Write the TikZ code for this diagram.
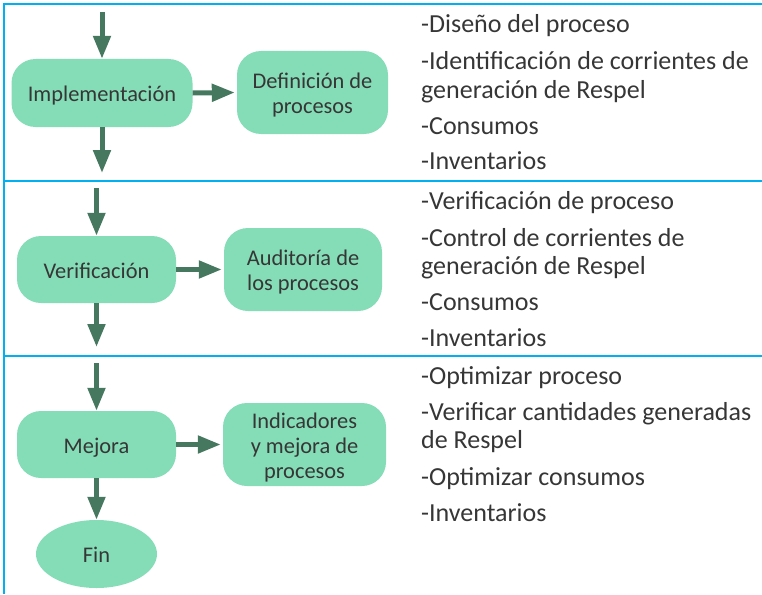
\documentclass[tikz,border=0pt]{standalone}
\usepackage{fontspec}
\setmainfont{Carlito}
\usetikzlibrary{arrows.meta,shapes.geometric}
\definecolor{frameblue}{HTML}{00B0F0}
\definecolor{mint}{HTML}{85DDB7}
\definecolor{arrowgreen}{HTML}{46785F}
\definecolor{txt}{HTML}{363636}
\newcommand{\lowtext}[1]{\raisebox{-3.5pt}[\height][\depth]{\begin{tabular}{@{}c@{}}#1\end{tabular}}}
\tikzset{
  box/.style={draw=none, fill=mint, rounded corners=24pt, text=txt, font=\fontsize{22.4}{25}\selectfont, inner sep=0pt},
  finbox/.style={ellipse, draw=none, fill=mint, text=txt, font=\fontsize{22.4}{25}\selectfont, inner sep=0pt},
  flow/.style={draw=arrowgreen, line width=5pt, -{Triangle[width=17pt,length=23pt]}},
  frame/.style={draw=frameblue, line width=2.5pt},
  item/.style={anchor=base west, inner sep=0pt, text=txt, font=\fontsize{26}{29}\selectfont}
}
\begin{document}
\begin{tikzpicture}[x=1pt,y=-1pt]
\useasboundingbox (0,0) rectangle (762,594);
% frame
\draw[frame] (4,594) -- (4,4) -- (762,4);
\draw[frame] (4,181) -- (762,181);
\draw[frame] (4,356) -- (762,356);
% nodes
\node[box, minimum width=181pt, minimum height=68pt] (impl) at (102,93) {\lowtext{Implementación}};
\node[box, minimum width=151pt, minimum height=83pt] (def) at (312.5,92.5) {\lowtext{Definición de\\procesos}};
\node[box, minimum width=159pt, minimum height=67pt] (ver) at (96.5,269.5) {\lowtext{Verificación}};
\node[box, minimum width=158pt, minimum height=83pt] (aud) at (303,269.5) {\lowtext{Auditoría de\\los procesos}};
\node[box, minimum width=159pt, minimum height=67pt] (mej) at (96.5,444.5) {\lowtext{Mejora}};
\node[box, minimum width=163pt, minimum height=83pt] (ind) at (304.5,444.5) {\lowtext{Indicadores\\y mejora de\\procesos}};
\node[finbox, minimum width=121pt, minimum height=68pt] (fin) at (96.5,554) {\lowtext{Fin}};
% free ends
\coordinate (c1) at (102,12);
\coordinate (c2) at (102,173);
\coordinate (c3) at (96.5,188);
\coordinate (c4) at (96.5,347);
\coordinate (c5) at (96.5,363);
% arrows
\draw[flow] (c1) -- (impl.north);
\draw[flow] (impl.south) -- (c2);
\draw[flow] (c3) -- (ver.north);
\draw[flow] (ver.south) -- (c4);
\draw[flow] (c5) -- (mej.north);
\draw[flow] (mej.south) -- (fin.north);
\draw[flow, shorten >=2pt] (impl.east) -- (def.west);
\draw[flow, shorten >=2pt] (ver.east) -- (aud.west);
\draw[flow, shorten >=2pt] (mej.east) -- (ind.west);
% right texts
\node[item] (a1) at (421,33) {-Diseño del proceso};
\node[item] (a2) at (421,70) {-Identificación de corrientes de};
\node[item] (a3) at (421,98) {generación de Respel};
\node[item] (a4) at (421,134) {-Consumos};
\node[item] (a5) at (421,169) {-Inventarios};
\node[item] (b1) at (421,209) {-Verificación de proceso};
\node[item] (b2) at (421,246) {-Control de corrientes de};
\node[item] (b3) at (421,274) {generación de Respel};
\node[item] (b4) at (421,310) {-Consumos};
\node[item] (b5) at (421,346) {-Inventarios};
\node[item] (d1) at (421,384) {-Optimizar proceso};
\node[item] (d2) at (421,420) {-Verificar cantidades generadas};
\node[item] (d3) at (421,448) {de Respel};
\node[item] (d4) at (421,485) {-Optimizar consumos};
\node[item] (d5) at (421,521) {-Inventarios};
\end{tikzpicture}
\end{document}
